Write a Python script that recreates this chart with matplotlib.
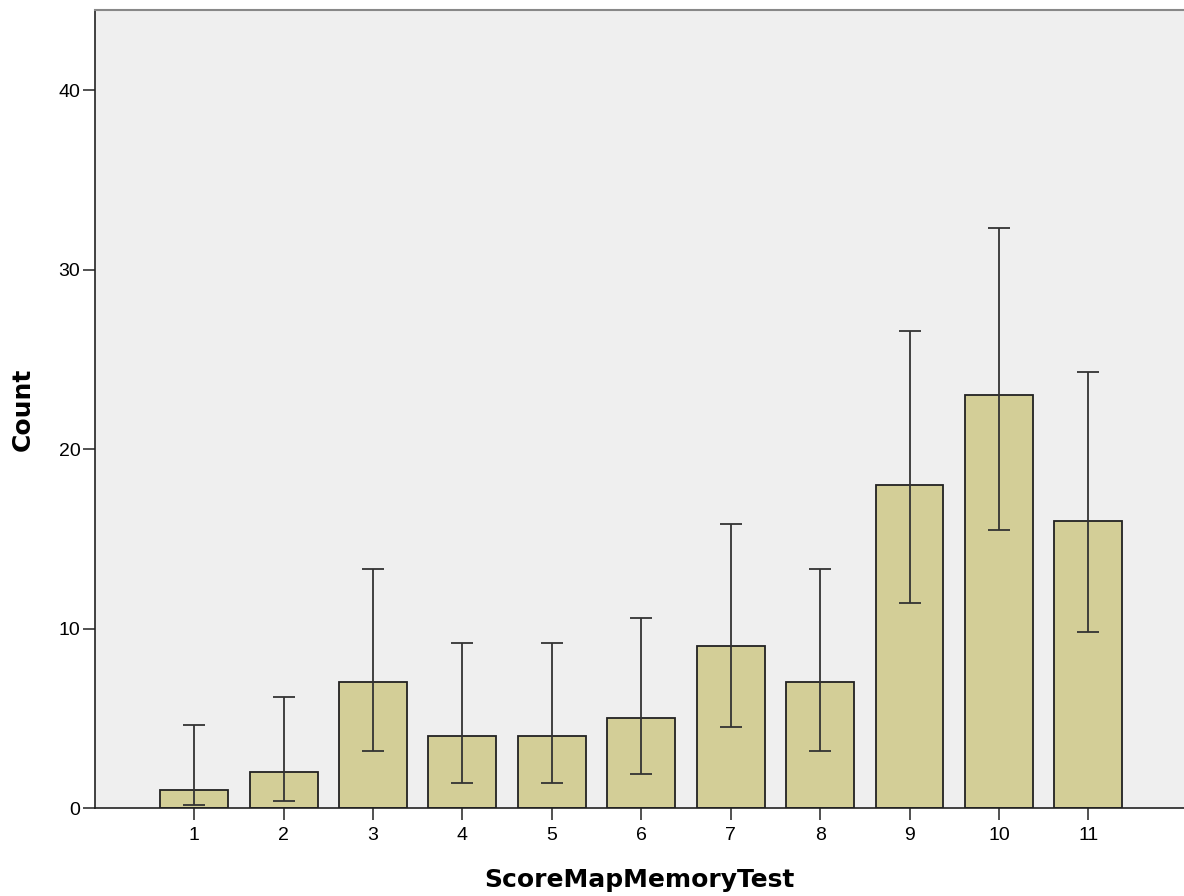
import numpy as np
from matplotlib import pyplot as plt

plt.rcParams['font.family'] = ['Liberation Sans', 'DejaVu Sans']

#--------------------------------------------
# Data
scores = [1, 2, 3, 4, 5, 6, 7, 8, 9, 10, 11]
counts = [1, 2, 7, 4, 4, 5, 9, 7, 18, 23, 16]
ci_low = [0.15, 0.4, 3.2, 1.4, 1.4, 1.9, 4.5, 3.2, 11.4, 15.5, 9.8]
ci_high = [4.6, 6.2, 13.3, 9.2, 9.2, 10.6, 15.8, 13.3, 26.6, 32.3, 24.3]

#--------------------------------------------
# Plot
fig = plt.figure(figsize=(11.84, 8.96), dpi=100)
ax = fig.add_axes([95/1184, 88/896, 1 - 95/1184, 798/896])
ax.set_facecolor('#efefef')

counts = np.array(counts)
yerr = np.array([counts - np.array(ci_low), np.array(ci_high) - counts])
ax.bar(scores, counts, width=0.76, color='#d3ce97', edgecolor='#222222',
       linewidth=1.3, zorder=2)
ax.errorbar(scores, counts, yerr=yerr, fmt='none', ecolor='#333333',
            elinewidth=1.3, capsize=8, capthick=1.3, zorder=3)

ax.set_xlim(-0.11, 12.07)
ax.set_ylim(0, 44.46)
ax.set_xticks(scores)
ax.set_yticks([0, 10, 20, 30, 40])
ax.tick_params(axis='both', length=8.5, width=1.2, color='#333333',
               labelsize=14)
ax.tick_params(axis='x', pad=5)
ax.tick_params(axis='y', pad=2)

for side in ['left', 'bottom']:
    ax.spines[side].set_color('#222222')
    ax.spines[side].set_linewidth(1.2)
ax.spines['top'].set_color('#888888')
ax.spines['top'].set_linewidth(1.5)
ax.spines['right'].set_visible(False)

ax.set_xlabel('ScoreMapMemoryTest', fontsize=18, fontweight='bold',
              family='DejaVu Sans', va='center')
ax.set_ylabel('Count', fontsize=18, fontweight='bold',
              family='DejaVu Sans', va='center')
ax.xaxis.set_label_coords(0.5, (808 - 880) / 798)
ax.yaxis.set_label_coords((23 - 95) / 1089, 0.5)

plt.savefig('out.png', dpi=100)
